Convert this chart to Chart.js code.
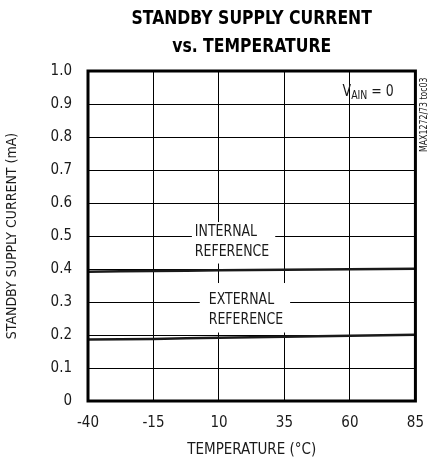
<!DOCTYPE html>
<html>
<head>
<meta charset="utf-8">
<script src="https://cdn.jsdelivr.net/npm/chart.js@4"></script>
<style>
html,body{margin:0;padding:0;background:#fff;}
#wrap{width:437px;height:459px;position:relative;}
</style>
</head>
<body>
<div id="wrap"><canvas id="c" width="437" height="459"></canvas></div>
<script>
const temperatures = [-40, -15, 10, 35, 60, 85];
const internalRef = [0.392, 0.394, 0.396, 0.398, 0.399, 0.401];
const externalRef = [0.186, 0.188, 0.192, 0.195, 0.198, 0.201];
const xTicks = [-40, -15, 10, 35, 60, 85];
const yTicks = [0, 0.1, 0.2, 0.3, 0.4, 0.5, 0.6, 0.7, 0.8, 0.9, 1.0];
const titleLines = ["STANDBY SUPPLY CURRENT", "vs. TEMPERATURE"];
const curveLabels = [["INTERNAL", "REFERENCE"], ["EXTERNAL", "REFERENCE"]];

const NARROW = '"Liberation Sans Narrow", "DejaVu Sans Condensed", "Roboto Condensed", Arial, sans-serif';
const INK = '#1a1a1a';
const SQ = 0.87; // horizontal squeeze to mimic a condensed face

const toPts = (xs, ys) => xs.map((x, i) => ({x: x, y: ys[i]}));

// label anchor (data coords) and white-box padding (px)
const labelPlacement = [
  {x: 0.8, y: 0.512, pad: {l: 3, r: 6, t: 10, b: 12}},
  {x: 6.1, y: 0.306, pad: {l: 9, r: 7, t: 17, b: 13}}
];

function squeezedText(ctx, s, x, y) {
  ctx.save();
  ctx.translate(x, y);
  ctx.scale(SQ, 1);
  ctx.fillText(s, 0, 0);
  ctx.restore();
}

const annot = {
  id: 'annot',
  afterDatasetsDraw(chart) {
    const ctx = chart.ctx;
    const xs = chart.scales.x, ys = chart.scales.y;
    const a = chart.chartArea;
    ctx.save();
    // frame
    ctx.strokeStyle = '#000';
    ctx.lineWidth = 3;
    ctx.strokeRect(a.left, a.top, a.right - a.left, a.bottom - a.top);
    // curve labels with white backgrounds
    ctx.font = '16px ' + NARROW;
    ctx.textBaseline = 'middle';
    ctx.textAlign = 'left';
    const lh = 19.5;
    curveLabels.forEach((lines, k) => {
      const pl = labelPlacement[k];
      const px = xs.getPixelForValue(pl.x);
      const py = ys.getPixelForValue(pl.y);
      const w = Math.max(...lines.map(s => ctx.measureText(s).width)) * SQ;
      ctx.fillStyle = '#fff';
      ctx.fillRect(px - pl.pad.l, py - pl.pad.t, w + pl.pad.l + pl.pad.r, lh * (lines.length - 1) + pl.pad.t + pl.pad.b);
      ctx.fillStyle = INK;
      lines.forEach((s, i) => squeezedText(ctx, s, px, py + i * lh));
    });
    // V_AIN = 0
    const vx = xs.getPixelForValue(57.2), vy = ys.getPixelForValue(0.924);
    ctx.textBaseline = 'alphabetic';
    ctx.font = '16px ' + NARROW;
    squeezedText(ctx, 'V', vx, vy);
    let off = ctx.measureText('V').width * SQ;
    ctx.font = '12px ' + NARROW;
    squeezedText(ctx, 'AIN', vx + off, vy + 3);
    off += ctx.measureText('AIN').width * SQ;
    ctx.font = '16px ' + NARROW;
    squeezedText(ctx, ' = 0', vx + off, vy);
    // side code text
    ctx.save();
    ctx.translate(a.right + 9, a.top + 81);
    ctx.rotate(-Math.PI / 2);
    ctx.font = '10px ' + NARROW;
    ctx.textBaseline = 'middle';
    ctx.textAlign = 'left';
    ctx.fillStyle = INK;
    squeezedText(ctx, 'MAX1272/73 toc03', 0, 0);
    ctx.restore();
    // title
    ctx.font = 'bold 20px ' + NARROW;
    ctx.textAlign = 'center';
    ctx.textBaseline = 'middle';
    ctx.fillStyle = '#000';
    const cx = (a.left + a.right) / 2;
    squeezedText(ctx, titleLines[0], cx, 19);
    squeezedText(ctx, titleLines[1], cx, 47);
    ctx.restore();
  }
};

new Chart(document.getElementById('c'), {
  type: 'line',
  data: {
    datasets: [
      {label: 'Internal reference', data: toPts(temperatures, internalRef), borderColor: INK, borderWidth: 2.5, pointRadius: 0, tension: 0.3, fill: false},
      {label: 'External reference', data: toPts(temperatures, externalRef), borderColor: INK, borderWidth: 2.5, pointRadius: 0, tension: 0.3, fill: false}
    ]
  },
  options: {
    responsive: false,
    animation: false,
    devicePixelRatio: 1,
    layout: {padding: {top: 71, right: 21, left: 0, bottom: 0}},
    plugins: {legend: {display: false}, tooltip: {enabled: false}, title: {display: false}},
    scales: {
      x: {
        type: 'linear', min: -40, max: 85,
        afterBuildTicks: s => { s.ticks = xTicks.map(v => ({value: v})); },
        afterFit: s => { s.height = 58; },
        grid: {color: '#000', lineWidth: 1, drawTicks: false},
        border: {display: false},
        ticks: {color: INK, font: {family: NARROW, size: 15}, padding: 13, maxRotation: 0},
        title: {display: true, text: 'TEMPERATURE (°C)', color: INK, font: {family: NARROW, size: 15}, padding: {top: 5, bottom: 0}}
      },
      y: {
        type: 'linear', min: 0, max: 1,
        afterBuildTicks: s => { s.ticks = yTicks.map(v => ({value: v})); },
        afterFit: s => { s.width = 88; },
        grid: {color: '#000', lineWidth: 1, drawTicks: false},
        border: {display: false},
        ticks: {color: INK, font: {family: NARROW, size: 15}, padding: 16,
          callback: v => (v === 0 ? '0' : v.toFixed(1))},
        title: {display: true, text: 'STANDBY SUPPLY CURRENT (mA)', color: INK, font: {family: NARROW, size: 14}, padding: {top: 4, bottom: 0}}
      }
    }
  },
  plugins: [annot]
});
</script>
</body>
</html>
